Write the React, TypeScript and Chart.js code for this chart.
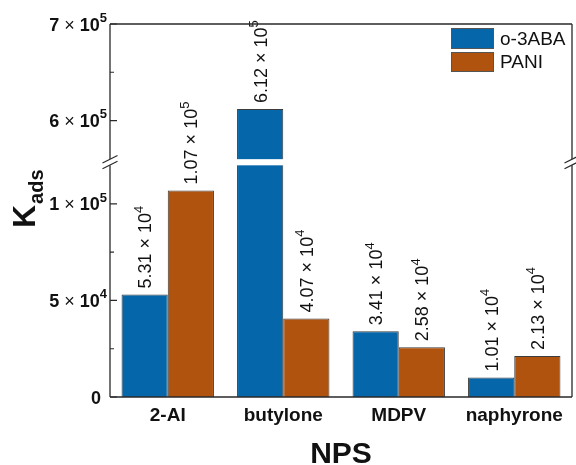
import React, { useEffect, useRef } from "react";
import { Chart, registerables } from "chart.js";

Chart.register(...registerables);

const categories = ["2-AI", "butylone", "MDPV", "naphyrone"];
const seriesNames = ["o-3ABA", "PANI"];
const o3abaValues = [5.31e4, 6.12e5, 3.41e4, 1.01e4];
const paniValues = [1.07e5, 4.07e4, 2.58e4, 2.13e4];
const majorTicks = [0, 5e4, 1e5, 6e5, 7e5];
const minorTicks = [2.5e4, 7.5e4, 6.5e5];
const seriesColors = ["#0567a9", "#af530e"];

// broken axis: lower 0..1.2e5, upper 5.6e5..7e5
const LOW_MAX = 1.2e5;
const HIGH_MIN = 5.6e5;
const HIGH_MAX = 7e5;
const GAP = 3200;
const HIGH_RATIO = 0.5;

function toAxis(v: number): number {
  if (v <= LOW_MAX) return v;
  if (v < HIGH_MIN) return LOW_MAX + GAP / 2;
  return LOW_MAX + GAP + (v - HIGH_MIN) * HIGH_RATIO;
}

const FAMILY = '"Liberation Sans", Arial, Helvetica, sans-serif';

function sciParts(v: number): { mant: string; exp: string | null } {
  if (v === 0) return { mant: "0", exp: null };
  const e = Math.floor(Math.log10(v) + 1e-9);
  const m = v / Math.pow(10, e);
  const mant = Math.abs(m - Math.round(m)) < 1e-9 ? String(Math.round(m)) : m.toFixed(2);
  return { mant, exp: String(e) };
}

function drawSci(
  ctx: CanvasRenderingContext2D,
  v: number,
  x: number,
  y: number,
  size: number,
  weight: string,
  align: "left" | "right" | "center"
) {
  const { mant, exp } = sciParts(v);
  const mainFont = `${weight} ${size}px ${FAMILY}`;
  const timesFont = `normal ${size}px ${FAMILY}`;
  const supSize = Math.round(size * 0.72);
  const supFont = `${weight} ${supSize}px ${FAMILY}`;
  const parts: { text: string; font: string; dy: number }[] = [];
  if (exp === null) {
    parts.push({ text: mant, font: mainFont, dy: 0 });
  } else {
    parts.push({ text: `${mant} `, font: mainFont, dy: 0 });
    parts.push({ text: "\u00d7", font: timesFont, dy: 0 });
    parts.push({ text: " 10", font: mainFont, dy: 0 });
    parts.push({ text: exp, font: supFont, dy: -size * 0.48 });
  }
  const widths = parts.map((p) => {
    ctx.font = p.font;
    return ctx.measureText(p.text).width;
  });
  const total = widths.reduce((a, b) => a + b, 0);
  let cx = align === "left" ? x : align === "right" ? x - total : x - total / 2;
  ctx.textAlign = "left";
  ctx.textBaseline = "alphabetic";
  parts.forEach((p, i) => {
    ctx.font = p.font;
    ctx.fillText(p.text, cx, y + p.dy);
    cx += widths[i];
  });
}

const decorPlugin = {
  id: "decor",
  afterDraw(chart: any) {
    const ctx: CanvasRenderingContext2D = chart.ctx;
    const area = chart.chartArea;
    const ys = chart.scales.y;
    const xs = chart.scales.x;
    const px = (v: number) => ys.getPixelForValue(toAxis(v));
    const gapTop = ys.getPixelForValue(LOW_MAX + GAP); // upper section bottom
    const gapBottom = ys.getPixelForValue(LOW_MAX); // lower section top
    const gapMid = (gapTop + gapBottom) / 2;

    ctx.save();
    // white gap through the plot
    ctx.fillStyle = "#ffffff";
    ctx.fillRect(area.left, gapTop, area.right - area.left, gapBottom - gapTop);

    // value labels
    ctx.fillStyle = "#111111";
    chart.data.datasets.forEach((ds: any, di: number) => {
      const meta = chart.getDatasetMeta(di);
      const raw = ds.rawValues as number[];
      meta.data.forEach((el: any, i: number) => {
        ctx.save();
        ctx.translate(el.x, el.y - 6);
        ctx.rotate(-Math.PI / 2);
        drawSci(ctx, raw[i], 0, 6.5, 18, "normal", "left");
        ctx.restore();
      });
    });

    // frame
    ctx.strokeStyle = "#2a2a2a";
    ctx.lineWidth = 1.3;
    ctx.beginPath();
    ctx.moveTo(area.left, area.top);
    ctx.lineTo(area.right, area.top);
    ctx.moveTo(area.left, area.bottom);
    ctx.lineTo(area.right, area.bottom);
    ctx.moveTo(area.left, area.top);
    ctx.lineTo(area.left, gapTop);
    ctx.moveTo(area.left, gapBottom);
    ctx.lineTo(area.left, area.bottom);
    ctx.moveTo(area.right, area.top);
    ctx.lineTo(area.right, gapTop);
    ctx.moveTo(area.right, gapBottom);
    ctx.lineTo(area.right, area.bottom);
    ctx.stroke();

    // ticks (inward)
    ctx.lineWidth = 1.2;
    ctx.beginPath();
    majorTicks.forEach((t) => {
      const y = px(t);
      ctx.moveTo(area.left, y);
      ctx.lineTo(area.left + 7, y);
    });
    minorTicks.forEach((t) => {
      const y = px(t);
      ctx.moveTo(area.left, y);
      ctx.lineTo(area.left + 4, y);
    });
    ctx.stroke();

    // break marks
    [area.left, area.right].forEach((ax) => {
      ctx.fillStyle = "#ffffff";
      ctx.beginPath();
      ctx.moveTo(ax - 7.5, gapMid + 0.8);
      ctx.lineTo(ax + 7.5, gapMid - 6.8);
      ctx.lineTo(ax + 7.5, gapMid - 1.0);
      ctx.lineTo(ax - 7.5, gapMid + 6.6);
      ctx.closePath();
      ctx.fill();
      ctx.strokeStyle = "#2a2a2a";
      ctx.lineWidth = 1.2;
      ctx.beginPath();
      ctx.moveTo(ax - 7.5, gapMid + 0.8);
      ctx.lineTo(ax + 7.5, gapMid - 6.8);
      ctx.moveTo(ax - 7.5, gapMid + 6.6);
      ctx.lineTo(ax + 7.5, gapMid - 1.0);
      ctx.stroke();
    });

    // y tick labels
    ctx.fillStyle = "#111111";
    majorTicks.forEach((t) => {
      const y = px(t);
      if (t === 0) {
        drawSci(ctx, t, area.left - 9, y + 6.5, 18, "bold", "right");
      } else {
        drawSci(ctx, t, area.left - 3, y + 6.5, 18, "bold", "right");
      }
    });

    // category labels
    ctx.font = `bold 19px ${FAMILY}`;
    ctx.textAlign = "center";
    ctx.textBaseline = "alphabetic";
    categories.forEach((c, i) => {
      ctx.fillText(c, xs.getPixelForValue(i), 421);
    });

    // x title
    ctx.font = `bold 30px ${FAMILY}`;
    ctx.fillText("NPS", (area.left + area.right) / 2, 463);

    // y title K_ads
    ctx.save();
    ctx.translate(35, 228);
    ctx.rotate(-Math.PI / 2);
    ctx.textAlign = "left";
    ctx.font = `bold 32px ${FAMILY}`;
    ctx.fillText("K", 0, 0);
    const wk = ctx.measureText("K").width;
    ctx.font = `bold 20px ${FAMILY}`;
    ctx.fillText("ads", wk + 1, 8);
    ctx.restore();

    // legend
    const sw = [
      { y0: 28, y1: 49 },
      { y0: 52, y1: 72 },
    ];
    chart.data.datasets.forEach((ds: any, di: number) => {
      const s = sw[di];
      ctx.fillStyle = ds.backgroundColor;
      ctx.fillRect(451, s.y0, 43, s.y1 - s.y0);
      ctx.strokeStyle = "#555555";
      ctx.lineWidth = 1;
      ctx.strokeRect(451.5, s.y0 + 0.5, 42, s.y1 - s.y0 - 1);
      ctx.fillStyle = "#111111";
      ctx.font = `normal 19px ${FAMILY}`;
      ctx.textAlign = "left";
      ctx.textBaseline = "middle";
      ctx.fillText(ds.label, 500, (s.y0 + s.y1) / 2 + 1);
    });

    ctx.restore();
  },
};

export default function App() {
  const canvasRef = useRef<HTMLCanvasElement | null>(null);

  useEffect(() => {
    const canvas = canvasRef.current;
    if (!canvas) return;
    const chart = new Chart(canvas, {
      type: "bar",
      data: {
        labels: categories,
        datasets: [
          {
            label: seriesNames[0],
            data: o3abaValues.map(toAxis),
            rawValues: o3abaValues,
            backgroundColor: seriesColors[0],
            borderColor: "#3c3c3c",
            borderWidth: 1,
            categoryPercentage: 0.8,
            barPercentage: 1.0,
          } as any,
          {
            label: seriesNames[1],
            data: paniValues.map(toAxis),
            rawValues: paniValues,
            backgroundColor: seriesColors[1],
            borderColor: "#3c3c3c",
            borderWidth: 1,
            categoryPercentage: 0.8,
            barPercentage: 1.0,
          } as any,
        ],
      },
      options: {
        responsive: false,
        animation: false,
        layout: { padding: { left: 110, right: 4, top: 24, bottom: 68 } },
        plugins: { legend: { display: false }, tooltip: { enabled: false } },
        scales: {
          x: { display: false, offset: true, grid: { display: false } },
          y: { display: false, min: 0, max: toAxis(HIGH_MAX) },
        },
      },
      plugins: [decorPlugin],
    });
    return () => chart.destroy();
  }, []);

  return (
    <div style={{ position: "fixed", left: 0, top: 0, width: 576, height: 465, background: "#fff" }}>
      <canvas ref={canvasRef} width={576} height={465} />
    </div>
  );
}
